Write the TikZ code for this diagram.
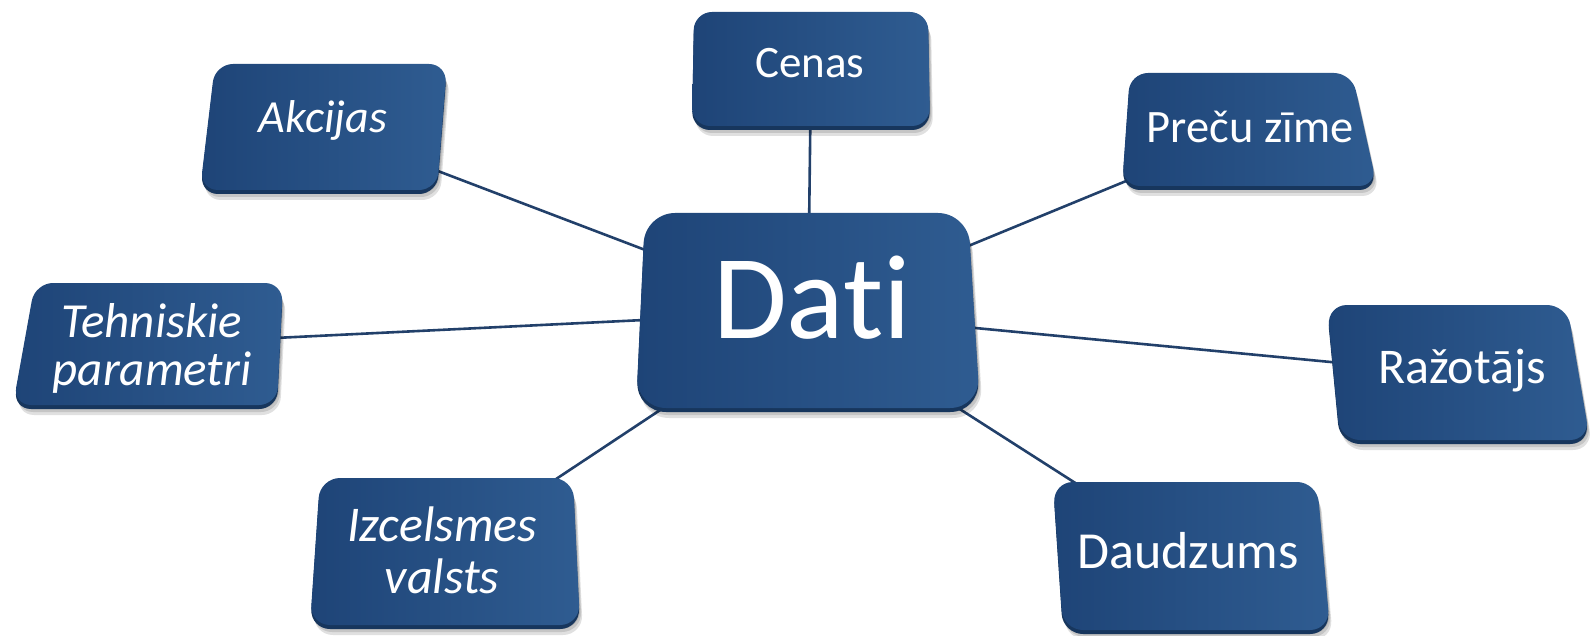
\documentclass[tikz,border=0pt]{standalone}
\usepackage{fontspec}
\setmainfont{Carlito}[Ligatures=NoCommon]
\usetikzlibrary{calc}
\definecolor{bxA}{HTML}{1E4477}
\definecolor{bxB}{HTML}{2F5C91}
\definecolor{bxRim}{HTML}{17365D}
\definecolor{lnC}{HTML}{22406A}
\tikzset{
  conn/.style={draw=lnC, line width=2.6pt},
  lbl/.style={text=white, inner sep=0pt},
}
\newcommand\pbox[5]{%
  \foreach \dx/\dy in {1/4,2/7,3/10}{%
    \fill[black, opacity=.12, rounded corners=#5]
      ($(#1)+(\dx,\dy)$) -- ($(#2)+(\dx,\dy)$) -- ($(#3)+(\dx,\dy)$) -- ($(#4)+(\dx,\dy)$) -- cycle;}
  \fill[bxRim, rounded corners=#5]
    ($(#1)+(0,4)$) -- ($(#2)+(0,4)$) -- ($(#3)+(0,4)$) -- ($(#4)+(0,4)$) -- cycle;
  \shade[left color=bxA, right color=bxB, rounded corners=#5]
    (#1) -- (#2) -- (#3) -- (#4) -- cycle;
}
\begin{document}
\begin{tikzpicture}[x=1pt,y=-1pt]
\useasboundingbox (0,0) rectangle (1592,636);
% centres
\coordinate (dati) at (808,312);
\coordinate (cenas) at (811,69);
\coordinate (akcijas) at (325,128);
\coordinate (precu) at (1250,130);
\coordinate (tehn) at (152,344);
\coordinate (razo) at (1456,374);
\coordinate (daudz) at (1191,557);
\coordinate (izc) at (446,552);
% connectors
\draw[conn] (dati) -- (cenas);
\draw[conn] (dati) -- (akcijas);
\draw[conn] (dati) -- (precu);
\draw[conn] (dati) -- (tehn);
\draw[conn] (dati) -- (razo);
\draw[conn] (dati) -- (daudz);
\draw[conn] (dati) -- (izc);
% boxes
\pbox{694,12}{928,12}{930,126}{692,126}{18pt}
\pbox{215,64}{447,64}{437,190}{200,190}{18pt}
\pbox{1130,73}{1352,73}{1377,186}{1122,186}{18pt}
\pbox{35,283}{283,283}{277,405}{13,405}{18pt}
\pbox{1327,305}{1567,305}{1590,440}{1340,440}{20pt}
\pbox{1053,482}{1317,482}{1330,630}{1063,630}{20pt}
\pbox{320,478}{573,478}{580,625}{310,625}{20pt}
\pbox{645,213}{968,213}{980,408}{636,408}{30pt}
% labels
\node[lbl, anchor=base, font=\fontsize{120}{126}\selectfont] (tdati) at (812,338) {Dati};
\node[lbl, anchor=base, font=\fontsize{45}{50}\selectfont] (tcenas) at (810,78) {Cenas};
\node[lbl, anchor=base, font=\fontsize{46}{50}\selectfont\itshape] (takcijas) at (323,133) {Akcijas};
\node[lbl, anchor=base, font=\fontsize{46.5}{50}\selectfont] (tprecu) at (1250,143) {Preču zīme};
\node[lbl, align=center, font=\fontsize{49}{48}\selectfont\itshape] (ttehn) at (152,348) {Tehniskie\\parametri};
\node[lbl, anchor=base, font=\fontsize{50}{56}\selectfont] (trazo) at (1462,383) {Ražotājs};
\node[lbl, anchor=base, font=\fontsize{52}{56}\selectfont] (tdaudz) at (1188,568) {Daudzums};
\node[lbl, align=center, font=\fontsize{50}{52}\selectfont\itshape] (tizc) at (442,550) {Izcelsmes\\valsts};
\end{tikzpicture}
\end{document}
